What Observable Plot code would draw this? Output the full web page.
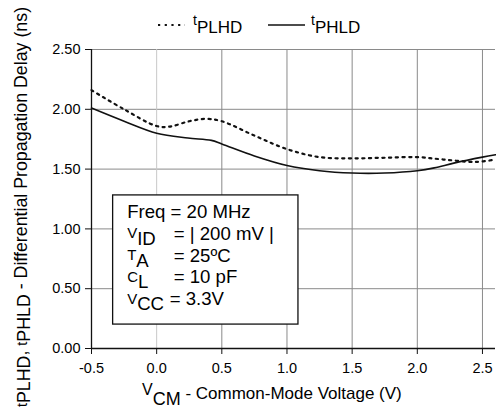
<!DOCTYPE html>
<html><head><meta charset="utf-8">
<script src="https://cdn.jsdelivr.net/npm/d3@7"></script>
<script src="https://cdn.jsdelivr.net/npm/@observablehq/plot@0.6"></script>
<style>
body{margin:0;background:#fff;}
svg text{font-family:"Liberation Sans",Arial,Helvetica,sans-serif;}
</style>
</head><body><div id="chart"></div>
<script>
// tPLHD (dotted)
const plhdVcm   = [-0.5, -0.25, 0.0, 0.1, 0.25, 0.38, 0.5, 0.75, 1.0, 1.25, 1.5, 1.75, 2.0, 2.2, 2.45, 2.6];
const plhdDelay = [2.16, 2.00, 1.86, 1.855, 1.90, 1.92, 1.90, 1.78, 1.667, 1.60, 1.59, 1.595, 1.60, 1.58, 1.56, 1.58];
// tPHLD (solid)
const phldVcm   = [-0.5, -0.25, 0.0, 0.24, 0.42, 0.5, 0.75, 1.0, 1.25, 1.5, 1.75, 2.0, 2.13, 2.28, 2.5, 2.6];
const phldDelay = [2.01, 1.90, 1.80, 1.76, 1.74, 1.71, 1.61, 1.53, 1.486, 1.467, 1.467, 1.486, 1.51, 1.55, 1.60, 1.62];

const xTicks = [-0.5, 0, 0.5, 1, 1.5, 2, 2.5];
const xTickLabels = ["-0.5", "0.0", "0.5", "1.0", "1.5", "2.0", "2.5"];
const yTicks = [0, 0.5, 1, 1.5, 2, 2.5];
const yTickLabels = ["0.00", "0.50", "1.00", "1.50", "2.00", "2.50"];

const seriesNames = ["tPLHD", "tPHLD"];
const noteBox = [{x1: -0.334, x2: 1.088, y1: 0.20, y2: 1.28}];
const noteLines = [
  {main: "Freq = 20 MHz", sym: "", sub: "", rest: ""},
  {main: "", sym: "V", sub: "ID", rest: "= | 200 mV |"},
  {main: "", sym: "T", sub: "A", rest: "= 25ºC"},
  {main: "", sym: "C", sub: "L", rest: "= 10 pF"},
  {main: "", sym: "V", sub: "CC", rest: "= 3.3V"}
];

const plhdRows = plhdVcm.map((v, i) => ({v, d: plhdDelay[i]}));
const phldRows = phldVcm.map((v, i) => ({v, d: phldDelay[i]}));

const chart = Plot.plot({
  width: 496, height: 411,
  marginTop: 49, marginBottom: 63, marginLeft: 91, marginRight: 1,
  style: {fontFamily: "Liberation Sans, Arial, sans-serif", fontSize: "14.5px", color: "#000", background: "#fff", overflow: "visible"},
  x: {domain: [-0.5, 2.6]},
  y: {domain: [0, 2.5]},
  marks: [
    Plot.ruleY(yTicks.filter(d => d > 0), {stroke: "#8a8a8a", strokeWidth: 1}),
    Plot.ruleX(xTicks.filter(d => d > -0.5), {y1: 0, y2: 2.5, stroke: d => d === 0 ? "#c8c8c8" : "#8a8a8a", strokeWidth: 1}),
    Plot.rect(noteBox, {x1: "x1", x2: "x2", y1: "y1", y2: "y2", fill: "white", stroke: "#111", strokeWidth: 1.3}),
    Plot.line(plhdRows, {x: "v", y: "d", curve: "catmull-rom", stroke: "#111", strokeWidth: 2.2, strokeDasharray: "2.2,4.5"}),
    Plot.line(phldRows, {x: "v", y: "d", curve: "catmull-rom", stroke: "#111", strokeWidth: 1.6}),
    Plot.ruleX([-0.5], {y1: 0, y2: 2.5, stroke: "#111", strokeWidth: 1.3}),
    Plot.ruleY([0], {stroke: "#111", strokeWidth: 1.3}),
    Plot.axisX({ticks: xTicks, tickSize: 6, tickPadding: 8, label: null, stroke: "#111",
      tickFormat: d => xTickLabels[xTicks.indexOf(d)]}),
    Plot.axisY({ticks: yTicks, tickSize: 6, tickPadding: 5, label: null, stroke: "#111",
      tickFormat: d => yTickLabels[yTicks.indexOf(d)]})
  ]
});
document.getElementById("chart").appendChild(chart);

const svg = d3.select(chart);
const xs = chart.scale("x"), ys = chart.scale("y");

// Legend
const leg = svg.append("g").attr("fill", "#000").attr("text-anchor", "start");
const legItems = [
  {name: seriesNames[0], dash: "2.2,4.5", w: 2.2, x0: 158, x1: 185, tx: 193},
  {name: seriesNames[1], dash: null, w: 1.6, x0: 268, x1: 305, tx: 311}
];
legItems.forEach(it => {
  leg.append("line").attr("x1", it.x0).attr("x2", it.x1).attr("y1", 25).attr("y2", 25)
    .attr("stroke", "#111").attr("stroke-width", it.w).attr("stroke-dasharray", it.dash);
  const t = leg.append("text").attr("x", it.tx).attr("y", 25);
  t.append("tspan").attr("font-size", 14).text(it.name[0]);
  t.append("tspan").attr("font-size", 17).attr("dy", 8).text(it.name.slice(1));
});

// X axis label
const xl = svg.append("text").attr("x", 142).attr("y", 395).attr("fill", "#000").attr("text-anchor", "start");
xl.append("tspan").attr("font-size", 16).text("V");
xl.append("tspan").attr("font-size", 18).attr("dy", 10).text("CM");
xl.append("tspan").attr("font-size", 17).attr("dy", -6).text(" - Common-Mode Voltage (V)");

// Y axis label
const yl = svg.append("text").attr("transform", "translate(27,207) rotate(-90)")
  .attr("text-anchor", "middle").attr("fill", "#000");
yl.append("tspan").attr("font-size", 14.5).text("t");
yl.append("tspan").attr("font-size", 17.8).attr("dy", 3).text("PLHD");
yl.append("tspan").attr("font-size", 17.8).attr("dy", -3).text(", ");
yl.append("tspan").attr("font-size", 14.5).text("t");
yl.append("tspan").attr("font-size", 17.8).attr("dy", 3).text("PHLD");
yl.append("tspan").attr("font-size", 17.8).attr("dy", -3).text(" - Differential Propagation Delay (ns)");

// Annotation text
const noteLeft = xs.apply(noteBox[0].x1) + 14.5;
const noteTop = ys.apply(noteBox[0].y2);
const eqOffsets = [0, 46.6, 46.6, 46.6, 42.6];
const ng = svg.append("g").attr("text-anchor", "start").attr("fill", "#000");
noteLines.forEach((ln, i) => {
  const base = noteTop + 23.3 + i * 21.7;
  if (ln.main) {
    ng.append("text").attr("x", noteLeft).attr("y", base).attr("font-size", 18.6).text(ln.main);
  } else {
    const s = ng.append("text").attr("x", noteLeft).attr("y", base - 1.5);
    s.append("tspan").attr("font-size", 15).text(ln.sym);
    s.append("tspan").attr("font-size", 18.6).attr("dy", 6.5).text(ln.sub);
    ng.append("text").attr("x", noteLeft + eqOffsets[i]).attr("y", base).attr("font-size", 18.6).text(ln.rest);
  }
});
</script>
</body></html>
